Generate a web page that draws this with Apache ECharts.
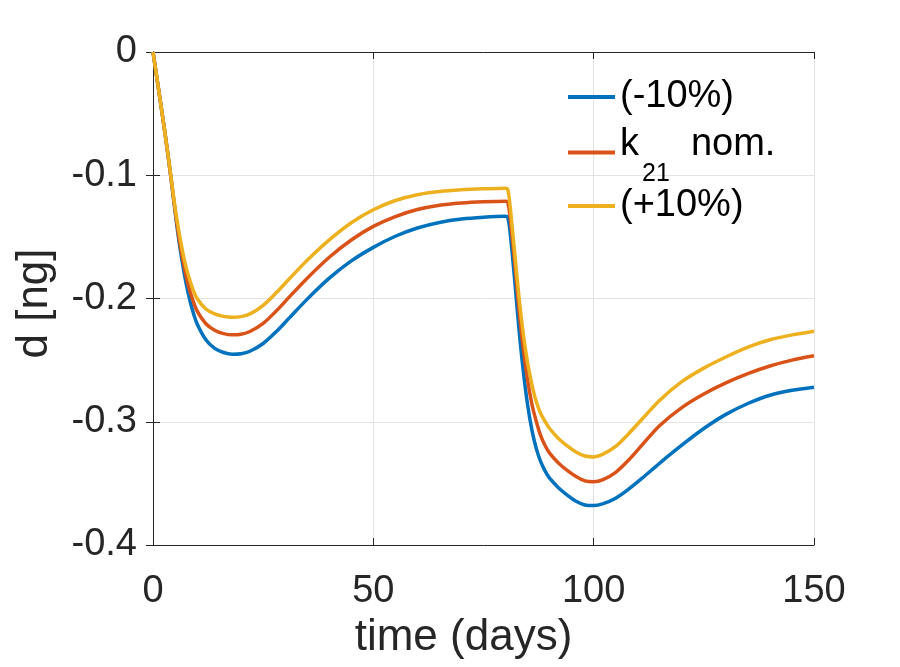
<!DOCTYPE html>
<html lang="en">
<head>
    <meta charset="UTF-8">
    <title>d vs time</title>
    <script src="https://cdn.jsdelivr.net/npm/echarts@6/dist/echarts.min.js"></script>
    <style>
        html, body { margin: 0; padding: 0; background: #fff; }
    </style>
</head>
<body>
    <div id="main" style="width: 900px;height:667px;"></div>
    <script type="text/javascript">
        // time samples (days)
        var time = [0, 1, 2, 3, 4, 5, 6, 7, 8, 9, 10, 12, 14, 16, 18, 20, 22, 25, 28, 31, 35, 40, 45, 50, 55, 60, 65, 70, 75, 80,
            80.5, 81, 82, 83, 84, 85, 86, 87, 88, 89, 90, 92, 94, 96, 98, 100, 102, 105, 108, 111, 115, 120, 125, 130, 135, 140, 145, 150];

        // k21 -10%
        var minus10 = [0, -0.024, -0.048, -0.073, -0.1, -0.129, -0.156, -0.178, -0.196, -0.21, -0.2205, -0.2335, -0.2405, -0.2438, -0.2452, -0.2448, -0.2428, -0.2365, -0.2268, -0.2155, -0.2005, -0.1835, -0.1695, -0.1585, -0.1495, -0.1428, -0.1383, -0.1355, -0.134, -0.1333,
            -0.1343, -0.145, -0.182, -0.223, -0.258, -0.286, -0.307, -0.322, -0.3325, -0.340, -0.3458, -0.3535, -0.3595, -0.3645, -0.3675, -0.368, -0.3667, -0.362, -0.3545, -0.3458, -0.3335, -0.319, -0.3055, -0.294, -0.2852, -0.2785, -0.2745, -0.272];

        // k21 nominal
        var nominal = [0, -0.024, -0.048, -0.073, -0.1, -0.128, -0.153, -0.173, -0.189, -0.201, -0.21, -0.2205, -0.2258, -0.2285, -0.2295, -0.229, -0.2268, -0.2202, -0.2100, -0.1985, -0.1835, -0.1665, -0.1525, -0.1415, -0.1335, -0.1278, -0.1243, -0.1225, -0.1215, -0.121,
            -0.122, -0.133, -0.168, -0.207, -0.240, -0.266, -0.286, -0.300, -0.3115, -0.3195, -0.3255, -0.3335, -0.3395, -0.3445, -0.348, -0.3487, -0.3472, -0.341, -0.3308, -0.3188, -0.303, -0.2885, -0.2775, -0.2685, -0.261, -0.2548, -0.25, -0.2465];

        // k21 +10%
        var plus10 = [0, -0.024, -0.048, -0.073, -0.099, -0.126, -0.148, -0.167, -0.181, -0.192, -0.2, -0.2085, -0.2125, -0.2145, -0.2152, -0.2147, -0.2125, -0.2055, -0.1952, -0.1838, -0.169, -0.1525, -0.1385, -0.128, -0.1205, -0.1158, -0.1132, -0.1118, -0.111, -0.1105,
            -0.1115, -0.124, -0.160, -0.197, -0.228, -0.252, -0.270, -0.284, -0.2935, -0.300, -0.3055, -0.3135, -0.3195, -0.3245, -0.3278, -0.3285, -0.3265, -0.320, -0.3095, -0.2978, -0.2825, -0.2675, -0.2565, -0.2475, -0.2395, -0.2335, -0.2295, -0.2265];

        var seriesNames = ['(-10%)', 'k21 nom.', '(+10%)'];
        var seriesColors = ['#0072BD', '#D95319', '#EDB120'];
        var yTickLabels = { '0': '0', '-0.1': '-0.1', '-0.2': '-0.2', '-0.3': '-0.3', '-0.4': '-0.4' };
        var xTickLabels = { '0': '0', '50': '50', '100': '100', '150': '150' };

        function pairs(ys) {
            return time.map(function (t, i) { return [t, ys[i]]; });
        }

        var font = 'Liberation Sans, Arial, Helvetica, sans-serif';
        var axisColor = '#262626';

        var myChart = echarts.init(document.getElementById('main'));

        var boxAxis = {
            show: true,
            axisLine: { show: true, lineStyle: { color: axisColor, width: 1 } },
            axisTick: { show: true, inside: true, length: 7, lineStyle: { color: axisColor } },
            axisLabel: { show: false },
            splitLine: { show: false }
        };

        // one legend block per entry so each row can be placed on its own
        var legendTops = [77, 118, 186];
        function legendFor(i) {
            return {
                data: [seriesNames[i]],
                orient: 'vertical',
                left: 568,
                top: legendTops[i],
                padding: 0,
                icon: 'rect',
                itemWidth: 47,
                itemHeight: 4,
                selectedMode: false,
                textStyle: i === 1 ? {
                    fontFamily: font,
                    fontSize: 38,
                    color: '#000',
                    rich: {
                        t: { fontFamily: font, fontSize: 38, lineHeight: 60, color: '#000', verticalAlign: 'top', padding: [8, 0, 0, 0] },
                        s: { fontFamily: font, fontSize: 25, lineHeight: 26, color: '#000', verticalAlign: 'bottom', padding: [0, 0, 0, 3] },
                        g: { fontFamily: font, fontSize: 2, lineHeight: 69, verticalAlign: 'top' }
                    }
                } : { fontFamily: font, fontSize: 38, lineHeight: 40, color: '#000' },
                formatter: function (name) {
                    if (name === 'k21 nom.') {
                        return '{t|k}{s|21}{t|  nom.}{g| }';
                    }
                    return name;
                }
            };
        }

        var option = {
            animation: false,
            backgroundColor: '#fff',
            grid: {
                left: 153, right: 86, top: 52, bottom: 122,
                containLabel: false,
                outerBoundsMode: 'none'
            },
            legend: [legendFor(0), legendFor(1), legendFor(2)],
            xAxis: [{
                type: 'value',
                min: 0,
                max: 150,
                interval: 50,
                name: 'time (days)',
                nameLocation: 'middle',
                nameGap: 71,
                nameTextStyle: { fontFamily: font, fontSize: 44, color: axisColor, padding: [0, 40, 0, 0] },
                axisLine: { show: true, onZero: false, lineStyle: { color: axisColor, width: 1 } },
                axisTick: { show: true, inside: true, length: 7, lineStyle: { color: axisColor } },
                axisLabel: {
                    fontFamily: font, fontSize: 38, color: axisColor, margin: 28,
                    formatter: function (v) { return xTickLabels[String(v)]; }
                },
                splitLine: { show: true, lineStyle: { color: '#e3e3e3', width: 1 } }
            }, Object.assign({ type: 'value', min: 0, max: 150, interval: 50, position: 'top' }, boxAxis)],
            yAxis: [{
                type: 'value',
                min: -0.4,
                max: 0,
                interval: 0.1,
                name: 'd [ng]',
                nameLocation: 'middle',
                nameGap: 96,
                nameRotate: 90,
                nameTextStyle: { fontFamily: font, fontSize: 44, color: axisColor, padding: [0, 10, 0, 0] },
                axisLine: { show: true, onZero: false, lineStyle: { color: axisColor, width: 1 } },
                axisTick: { show: true, inside: true, length: 7, lineStyle: { color: axisColor } },
                axisLabel: {
                    fontFamily: font, fontSize: 38, color: axisColor, margin: 16,
                    formatter: function (v) { return yTickLabels[String(Math.round(v * 10) / 10)]; }
                },
                splitLine: { show: true, lineStyle: { color: '#e3e3e3', width: 1 } }
            }, Object.assign({ type: 'value', min: -0.4, max: 0, interval: 0.1, position: 'right' }, boxAxis)],
            series: seriesNames.map(function (name, i) {
                return {
                    name: name,
                    type: 'line',
                    data: pairs([minus10, nominal, plus10][i]),
                    showSymbol: false,
                    symbol: 'none',
                    smooth: 0.3,
                    color: seriesColors[i],
                    lineStyle: { color: seriesColors[i], width: 3.5 },
                    z: 3 + i
                };
            })
        };

        myChart.setOption(option);
    </script>
</body>
</html>
